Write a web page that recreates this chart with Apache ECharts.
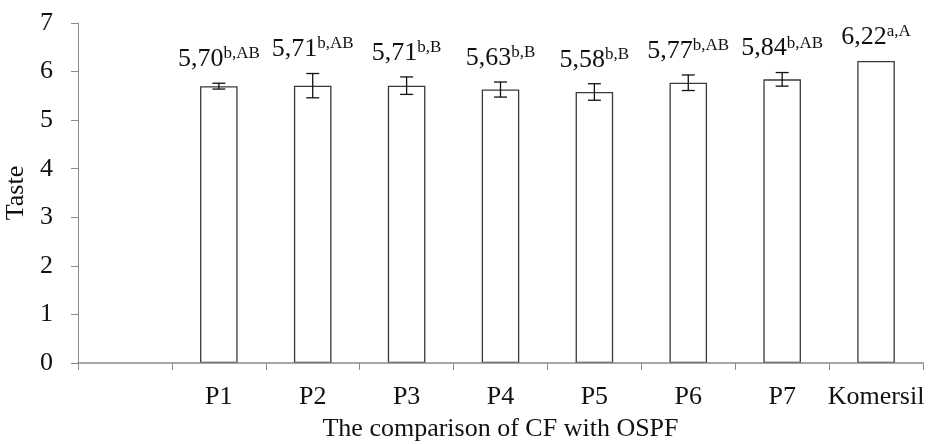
<!DOCTYPE html>
<html>
<head>
<meta charset="utf-8">
<script src="https://cdn.jsdelivr.net/npm/echarts@6/dist/echarts.min.js"></script>
<style>
  html, body { margin: 0; padding: 0; background: #fff; }
  #chart { width: 929px; height: 444px; }
</style>
</head>
<body>
<div id="chart"></div>
<script>
// Taste scores per formulation (first slot on the axis is left empty)
const categories = ['', 'P1', 'P2', 'P3', 'P4', 'P5', 'P6', 'P7', 'Komersil'];
const tasteMeans = [null, 5.70, 5.71, 5.71, 5.63, 5.58, 5.77, 5.84, 6.22];
const tasteErrors = [null, 0.06, 0.25, 0.18, 0.155, 0.17, 0.16, 0.14, 0];
const significance = ['', 'b,AB', 'b,AB', 'b,B', 'b,B', 'b,B', 'b,AB', 'b,AB', 'a,A'];
const yTicks = [0, 1, 2, 3, 4, 5, 6, 7];

const FONT = '"Liberation Serif", "Times New Roman", serif';
const AXIS_GRAY = '#8a8a8a';

const errorData = tasteMeans.map((v, i) => v == null ? null : [i, v, tasteErrors[i], significance[i]])
  .filter(d => d !== null);

const chart = echarts.init(document.getElementById('chart'), null, { renderer: 'canvas' });

chart.setOption({
  animation: false,
  grid: { left: 78, right: 6, top: 23, bottom: 81, containLabel: false, outerBoundsMode: 'none' },
  xAxis: {
    type: 'category',
    data: categories,
    boundaryGap: true,
    z: 5,
    name: 'The comparison of CF with OSPF',
    nameLocation: 'middle',
    nameGap: 53,
    nameTextStyle: { fontFamily: FONT, fontSize: 26, color: '#111' },
    axisLine: { lineStyle: { color: AXIS_GRAY, width: 1.5 } },
    axisTick: { show: true, length: 7, alignWithLabel: false, lineStyle: { color: AXIS_GRAY } },
    axisLabel: { fontFamily: FONT, fontSize: 26, color: '#111', margin: 21, interval: 0 },
    splitLine: { show: false }
  },
  yAxis: {
    type: 'value',
    min: yTicks[0],
    max: yTicks[yTicks.length - 1],
    interval: 1,
    name: 'Taste',
    nameLocation: 'middle',
    nameGap: 46,
    nameRotate: 90,
    nameTextStyle: { fontFamily: FONT, fontSize: 26, color: '#111' },
    axisLine: { show: true, lineStyle: { color: AXIS_GRAY, width: 1 } },
    axisTick: { show: true, length: 7, inside: false, lineStyle: { color: AXIS_GRAY } },
    axisLabel: { fontFamily: FONT, fontSize: 26, color: '#111', margin: 25 },
    splitLine: { show: false }
  },
  series: [
    {
      type: 'bar',
      data: tasteMeans.map(v => v == null ? '-' : v),
      barWidth: '40%',
      itemStyle: { color: '#ffffff', borderColor: '#3a3a3a', borderWidth: 1.3 },
      z: 2
    },
    {
      type: 'custom',
      data: errorData,
      z: 3,
      renderItem: function (params, api) {
        const idx = api.value(0);
        const mean = api.value(1);
        const err = api.value(2);
        const sig = errorData[params.dataIndex][3];
        const top = api.coord([idx, mean + err]);
        const bottom = api.coord([idx, mean - err]);
        const capHalf = 6.5;
        const children = [];
        if (err > 0) {
          const ls = { stroke: '#111', lineWidth: 1.3 };
          children.push(
            { type: 'line', shape: { x1: top[0], y1: top[1], x2: bottom[0], y2: bottom[1] }, style: ls },
            { type: 'line', shape: { x1: top[0] - capHalf, y1: top[1], x2: top[0] + capHalf, y2: top[1] }, style: ls },
            { type: 'line', shape: { x1: bottom[0] - capHalf, y1: bottom[1], x2: bottom[0] + capHalf, y2: bottom[1] }, style: ls }
          );
        }
        const meanText = mean.toFixed(2).replace('.', ',');
        children.push({
          type: 'text',
          x: top[0],
          y: top[1] - 10,
          style: {
            text: '{v|' + meanText + '}{s|' + sig + '}',
            align: 'center',
            verticalAlign: 'bottom',
            rich: {
              v: { fontFamily: FONT, fontSize: 26, fill: '#111', color: '#111', lineHeight: 28 },
              s: { fontFamily: FONT, fontSize: 17, fill: '#111', color: '#111', lineHeight: 28, verticalAlign: 'top', padding: [0, 0, 8, 0] }
            }
          }
        });
        return { type: 'group', children: children };
      }
    }
  ]
});
</script>
</body>
</html>
